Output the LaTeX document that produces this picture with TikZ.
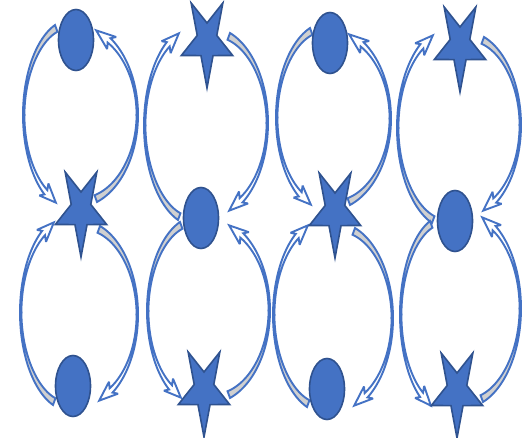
\documentclass[tikz,border=0pt]{standalone}
\usetikzlibrary{shapes.geometric}
\definecolor{obl}{HTML}{4472C4}
\definecolor{obd}{HTML}{2F528F}
\definecolor{ogr}{HTML}{D0D0D0}
\tikzset{
  arcsty/.style={draw=obl, line width=1.9pt, line join=miter, miter limit=3},
  shapesty/.style={fill=obl, draw=obd, line width=1.6pt, line join=miter},
  ovalsty/.style={ellipse, shapesty, minimum width=35pt, minimum height=61pt, inner sep=0pt}
}
% #1 side (-1 left, 1 right), #2 outer extreme x, #3 end x, #4 top y, #5 bottom y, #6 tail at top (1) or bottom (0)
\newcommand\cvarr[6]{%
  \pgfmathsetmacro\Rx{abs(#3-#2)/0.658}%
  \pgfmathsetmacro\Cx{#2-(#1)*\Rx}%
  \pgfmathsetmacro\Cy{(#4+#5)/2}%
  \pgfmathsetmacro\Ry{(#5-#4)/2/0.9397}%
  \pgfmathsetmacro\PT{90-160*(#1)}%
  \pgfmathsetmacro\PB{90-20*(#1)}%
  \pgfmathsetmacro\PM{(\PT+\PB)/2}%
  \ifnum#6=1 \let\Ptail\PT \let\Phead\PB \else \let\Ptail\PB \let\Phead\PT \fi
  \pgfmathsetmacro\Sg{sign(\Phead-\Ptail)}%
  \pgfmathsetmacro\Pbase{\Phead-14*\Sg}%
  \pgfmathsetmacro\Pbarb{\Pbase-3*\Sg}%
  \filldraw[arcsty, fill=ogr]
    plot[domain=\Ptail:\PM, samples=50, variable=\p] ({\Cx+\Rx*cos(\p)},{\Cy+\Ry*sin(\p)})
    -- plot[domain=\PM:\Ptail, samples=50, variable=\p]
      ({\Cx+(\Rx-(1.4+5.8*((\p-\PM)/(\Ptail-\PM))^1.7))*cos(\p)},{\Cy+(\Ry-(1.4+5.8*((\p-\PM)/(\Ptail-\PM))^1.7))*sin(\p)})
    -- cycle;
  \filldraw[arcsty, fill=white]
    plot[domain=\PM:\Pbase, samples=50, variable=\p] ({\Cx+\Rx*cos(\p)},{\Cy+\Ry*sin(\p)})
    -- ({\Cx+(\Rx+5)*cos(\Pbarb)},{\Cy+(\Ry+5)*sin(\Pbarb)})
    -- ({\Cx+(\Rx-2.5)*cos(\Phead)},{\Cy+(\Ry-2.5)*sin(\Phead)})
    -- ({\Cx+(\Rx-10)*cos(\Pbarb)},{\Cy+(\Ry-10)*sin(\Pbarb)})
    -- plot[domain=\Pbase:\PM, samples=50, variable=\p]
      ({\Cx+(\Rx-(1.4+3.8*((\p-\PM)/(\Pbase-\PM))^2))*cos(\p)},{\Cy+(\Ry-(1.4+3.8*((\p-\PM)/(\Pbase-\PM))^2))*sin(\p)})
    -- cycle;
}
% star: #1 x, #2 y, #3 name
\newcommand\mystar[3]{%
  \coordinate (#3) at (#1,#2);
  \filldraw[shapesty, shift={(#3)}]
    (90:27 and 47) -- (126:10.3 and 18) -- (162:27 and 47) -- (198:10.3 and 18)
    -- (234:27 and 47) -- (270:10.3 and 18) -- (306:27 and 47) -- (342:10.3 and 18)
    -- (18:27 and 47) -- (54:10.3 and 18) -- cycle;
}
\begin{document}
\begin{tikzpicture}[x=1pt, y=-1pt]
\useasboundingbox (0,0) rectangle (524,438);
% row 1
\cvarr{-1}{23}{55}{25}{205}{1}
\cvarr{1}{138}{97}{28}{202}{0}
\cvarr{-1}{144}{178}{31}{220}{0}
\cvarr{1}{268}{230}{33}{213}{1}
\cvarr{-1}{276}{310}{28}{207}{1}
\cvarr{1}{391}{350}{32}{205}{0}
\cvarr{-1}{397}{432}{33}{223}{0}
\cvarr{1}{521}{484}{37}{213}{1}
% row 2
\cvarr{-1}{20}{53}{220}{405}{0}
\cvarr{1}{138}{100}{226}{403}{1}
\cvarr{-1}{147}{180}{222}{400}{1}
\cvarr{1}{270}{230}{223}{398}{0}
\cvarr{-1}{273}{307}{223}{407}{0}
\cvarr{1}{393}{355}{228}{408}{1}
\cvarr{-1}{400}{430}{221}{408}{1}
\cvarr{1}{521}{483}{215}{402}{0}
% shapes
\node[ovalsty] (e1) at (76,40) {};
\node[ovalsty] (e2) at (201,218) {};
\node[ovalsty] (e3) at (330,43) {};
\node[ovalsty] (e4) at (455,221) {};
\node[ovalsty] (e5) at (73,386) {};
\node[ovalsty] (e6) at (327,389) {};
\mystar{81}{210}{s1}
\mystar{207}{41}{s2}
\mystar{335}{211}{s3}
\mystar{460}{45}{s4}
\mystar{204}{390}{s5}
\mystar{457}{391}{s6}
\end{tikzpicture}
\end{document}
